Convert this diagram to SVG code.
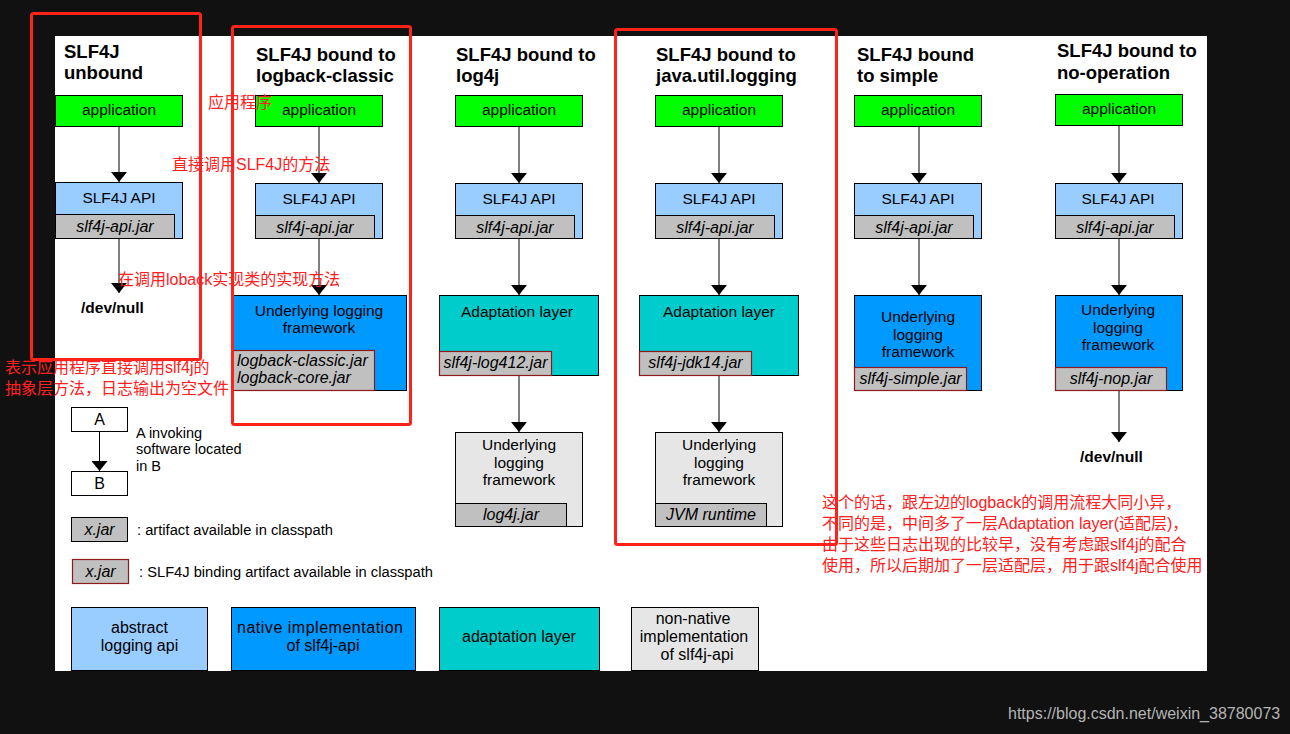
<svg xmlns="http://www.w3.org/2000/svg" width="1290" height="734" viewBox="0 0 1290 734">
<defs>
<style>
.t{font-family:"Liberation Sans",Arial,sans-serif;fill:#000}
.n{font-size:15.5px;text-anchor:middle}
.k{font-size:16px;text-anchor:middle}
.j{font-size:16px;font-style:italic;text-anchor:middle}
.js{font-size:16px;font-style:italic;text-anchor:start}
.h{font-size:18.5px;font-weight:bold}
.dn{font-size:15.5px;font-weight:bold}
.lg{font-size:14.7px}
.lb{font-size:16px;text-anchor:middle}
.b{stroke:#000;stroke-width:1}
.app{fill:#00ff00}
.api{fill:#99ccff}
.jar{fill:#c0c0c0;stroke:#000;stroke-width:1}
.bjar{fill:#c0c0c0;stroke:#8b1a1a;stroke-width:1.2}
.nat{fill:#0099ff}
.ada{fill:#00cccc}
.non{fill:#e6e6e6}
.wht{fill:#fff}
.red{fill:none;stroke:#ff2219;stroke-width:3}
.cn{font-family:"Liberation Sans","Noto Sans CJK SC",sans-serif;fill:#ff2020;font-size:16px}
.wm{font-family:"Liberation Sans",Arial,sans-serif;fill:#b4b4b4;font-size:16px}
#connectors line{stroke:#000;stroke-width:1;marker-end:url(#ah)}
</style>
<marker id="ah" viewBox="0 0 10 16" refX="10" refY="8" markerWidth="10" markerHeight="16" markerUnits="userSpaceOnUse" orient="auto"><path d="M0,0L10,8L0,16z" fill="#000"/></marker>
</defs>
<rect width="1290" height="734" fill="#111111"/>
<rect x="55" y="36" width="1152" height="635" fill="#ffffff"/>

<!-- Titles -->
<g id="titles" class="t h">
<text x="64" y="58">SLF4J</text><text x="64" y="79">unbound</text>
<text x="256" y="61">SLF4J bound to</text><text x="256" y="82">logback-classic</text>
<text x="456" y="61">SLF4J bound to</text><text x="456" y="82">log4j</text>
<text x="656" y="61">SLF4J bound to</text><text x="656" y="82">java.util.logging</text>
<text x="857" y="61">SLF4J bound</text><text x="857" y="82">to simple</text>
<text x="1057" y="57">SLF4J bound to</text><text x="1057" y="79">no-operation</text>
</g>

<!-- Column 1 -->
<g id="c1-app"><rect class="app b" x="55.5" y="95.5" width="127" height="31"/><text class="t n" x="119" y="115">application</text></g>
<g id="c1-api"><rect class="api b" x="55.5" y="182.5" width="127" height="56"/><text class="t n" x="119" y="203">SLF4J API</text>
<rect class="jar" x="55.5" y="214.5" width="119" height="24"/><text class="t j" x="115" y="232">slf4j-api.jar</text></g>
<g id="c1-null"><text class="t dn" x="81" y="313">/dev/null</text></g>

<!-- Column 2 -->
<g id="c2-app"><rect class="app b" x="255.5" y="95.5" width="127" height="31"/><text class="t n" x="319" y="115">application</text></g>
<g id="c2-api"><rect class="api b" x="255.5" y="183.5" width="127" height="55"/><text class="t n" x="319" y="204">SLF4J API</text>
<rect class="jar" x="255.5" y="215.5" width="119" height="23"/><text class="t j" x="315" y="233">slf4j-api.jar</text></g>
<g id="c2-fw"><rect class="nat b" x="232.5" y="295.5" width="174" height="95"/>
<text class="t n" x="319" y="316">Underlying logging</text><text class="t n" x="319" y="333">framework</text>
<rect class="bjar" x="232.5" y="350.5" width="142" height="40"/>
<text class="t js" x="237" y="366">logback-classic.jar</text><text class="t js" x="237" y="383">logback-core.jar</text></g>

<!-- Column 3 -->
<g id="c3-app"><rect class="app b" x="455.5" y="95.5" width="127" height="31"/><text class="t n" x="519" y="115">application</text></g>
<g id="c3-api"><rect class="api b" x="455.5" y="183.5" width="127" height="55"/><text class="t n" x="519" y="204">SLF4J API</text>
<rect class="jar" x="455.5" y="215.5" width="119" height="23"/><text class="t j" x="515" y="233">slf4j-api.jar</text></g>
<g id="c3-ada"><rect class="ada b" x="439.5" y="295.5" width="159" height="80"/><text class="t n" x="517" y="317">Adaptation  layer</text>
<rect class="bjar" x="439.5" y="351.5" width="112" height="24"/><text class="t j" x="495.5" y="368">slf4j-log412.jar</text></g>
<g id="c3-fw"><rect class="non b" x="455.5" y="432.5" width="127" height="94"/>
<text class="t n" x="519" y="450">Underlying</text><text class="t n" x="519" y="467.5">logging</text><text class="t n" x="519" y="485">framework</text>
<rect class="jar" x="455.5" y="503.5" width="111" height="23"/><text class="t j" x="511" y="520">log4j.jar</text></g>

<!-- Column 4 -->
<g id="c4-app"><rect class="app b" x="655.5" y="95.5" width="127" height="31"/><text class="t n" x="719" y="115">application</text></g>
<g id="c4-api"><rect class="api b" x="655.5" y="183.5" width="127" height="55"/><text class="t n" x="719" y="204">SLF4J API</text>
<rect class="jar" x="655.5" y="215.5" width="119" height="23"/><text class="t j" x="715" y="233">slf4j-api.jar</text></g>
<g id="c4-ada"><rect class="ada b" x="639.5" y="295.5" width="159" height="80"/><text class="t n" x="719" y="317">Adaptation  layer</text>
<rect class="bjar" x="639.5" y="351.5" width="112" height="24"/><text class="t j" x="695.5" y="368">slf4j-jdk14.jar</text></g>
<g id="c4-fw"><rect class="non b" x="655.5" y="432.5" width="127" height="94"/>
<text class="t n" x="719" y="450">Underlying</text><text class="t n" x="719" y="467.5">logging</text><text class="t n" x="719" y="485">framework</text>
<rect class="jar" x="655.5" y="503.5" width="111" height="23"/><text class="t j" x="711" y="520">JVM runtime</text></g>

<!-- Column 5 -->
<g id="c5-app"><rect class="app b" x="854.5" y="95.5" width="127" height="31"/><text class="t n" x="918" y="115">application</text></g>
<g id="c5-api"><rect class="api b" x="854.5" y="183.5" width="127" height="55"/><text class="t n" x="918" y="204">SLF4J API</text>
<rect class="jar" x="854.5" y="215.5" width="119" height="23"/><text class="t j" x="914" y="233">slf4j-api.jar</text></g>
<g id="c5-fw"><rect class="nat b" x="854.5" y="295.5" width="127" height="95"/>
<text class="t n" x="918" y="322">Underlying</text><text class="t n" x="918" y="339.5">logging</text><text class="t n" x="918" y="357">framework</text>
<rect class="bjar" x="854.5" y="367.5" width="112" height="23"/><text class="t j" x="910.5" y="384">slf4j-simple.jar</text></g>

<!-- Column 6 -->
<g id="c6-app"><rect class="app b" x="1055.5" y="94.5" width="127" height="31"/><text class="t n" x="1119" y="114">application</text></g>
<g id="c6-api"><rect class="api b" x="1055.5" y="183.5" width="127" height="55"/><text class="t n" x="1118" y="204">SLF4J API</text>
<rect class="jar" x="1055.5" y="215.5" width="119" height="23"/><text class="t j" x="1115" y="233">slf4j-api.jar</text></g>
<g id="c6-fw"><rect class="nat b" x="1055.5" y="295.5" width="127" height="95"/>
<text class="t n" x="1118" y="315">Underlying</text><text class="t n" x="1118" y="332.5">logging</text><text class="t n" x="1118" y="350">framework</text>
<rect class="bjar" x="1055.5" y="367.5" width="111" height="23"/><text class="t j" x="1111" y="384">slf4j-nop.jar</text></g>
<g id="c6-null"><text class="t dn" x="1080" y="462">/dev/null</text></g>

<!-- Legend -->
<g id="lg-a"><rect class="wht b" x="71.5" y="407.5" width="56" height="24"/><text class="t lb" x="99.5" y="425">A</text></g>
<g id="lg-b"><rect class="wht b" x="71.5" y="471.5" width="56" height="24"/><text class="t lb" x="99.5" y="489">B</text></g>
<g id="lg-invoke" class="t" font-size="14.5px"><text x="136" y="438">A invoking</text><text x="136" y="454">software located</text><text x="136" y="471">in B</text></g>
<g id="lg-jar"><rect class="jar" x="71.5" y="517.5" width="56" height="24"/><text class="t j" x="99.5" y="535">x.jar</text>
<text class="t lg" x="137" y="535">: artifact available in classpath</text></g>
<g id="lg-bjar"><rect class="bjar" x="72.5" y="559.5" width="56" height="24"/><text class="t j" x="100.5" y="577">x.jar</text>
<text class="t lg" x="139" y="577">: SLF4J binding artifact available in classpath</text></g>

<g id="key-abstract"><rect class="api b" x="71.5" y="607.5" width="136" height="63"/><text class="t k" x="139.5" y="633">abstract</text><text class="t k" x="139.5" y="651">logging api</text></g>
<g id="key-native"><rect class="nat b" x="231.5" y="607.5" width="184" height="63"/><text class="t k" x="320" y="633" textLength="166" lengthAdjust="spacing">native implementation</text><text class="t k" x="323" y="651">of slf4j-api</text></g>
<g id="key-adapt"><rect class="ada b" x="439.5" y="607.5" width="160" height="63"/><text class="t k" x="519" y="642">adaptation layer</text></g>
<g id="key-nonnative"><rect class="non b" x="631.5" y="607.5" width="127" height="63"/><text class="t k" x="693" y="624">non-native</text><text class="t k" x="694" y="642">implementation</text><text class="t k" x="697" y="660">of slf4j-api</text></g>

<!-- Connectors -->
<g id="connectors">
<line x1="119" y1="127" x2="119" y2="182"/>
<line x1="119" y1="239" x2="119" y2="293"/>
<line x1="319" y1="127" x2="319" y2="183"/>
<line x1="319" y1="239" x2="319" y2="295"/>
<line x1="519" y1="127" x2="519" y2="183"/>
<line x1="519" y1="239" x2="519" y2="295"/>
<line x1="519" y1="376" x2="519" y2="432"/>
<line x1="719" y1="127" x2="719" y2="183"/>
<line x1="719" y1="239" x2="719" y2="295"/>
<line x1="719" y1="376" x2="719" y2="432"/>
<line x1="919" y1="127" x2="919" y2="183"/>
<line x1="919" y1="239" x2="919" y2="295"/>
<line x1="1119" y1="126" x2="1119" y2="183"/>
<line x1="1119" y1="239" x2="1119" y2="295"/>
<line x1="1119" y1="391" x2="1119" y2="442"/>
<line x1="99.5" y1="432" x2="99.5" y2="471"/>
</g>

<!-- Annotations -->
<g id="highlights">
<rect class="red" x="31.5" y="13.5" width="169" height="346" rx="2"/>
<rect class="red" x="232.5" y="26.5" width="178" height="398" rx="2"/>
<rect class="red" x="615.5" y="29.5" width="221" height="515" rx="2"/>
</g>
<g id="notes" class="cn">
<text x="208" y="108">应用程序</text>
<text x="172" y="170">直接调用SLF4J的方法</text>
<text x="118" y="285">在调用loback实现类的实现方法</text>
<text x="5" y="373">表示应用程序直接调用slf4j的</text>
<text x="5" y="394">抽象层方法，日志输出为空文件</text>
<text x="822" y="508">这个的话，跟左边的logback的调用流程大同小异，</text>
<text x="822" y="529">不同的是，中间多了一层Adaptation layer(适配层)，</text>
<text x="822" y="550">由于这些日志出现的比较早，没有考虑跟slf4j的配合</text>
<text x="822" y="571">使用，所以后期加了一层适配层，用于跟slf4j配合使用</text>
</g>
<text class="wm" x="1008" y="719">https://blog.csdn.net/weixin_38780073</text>
</svg>
